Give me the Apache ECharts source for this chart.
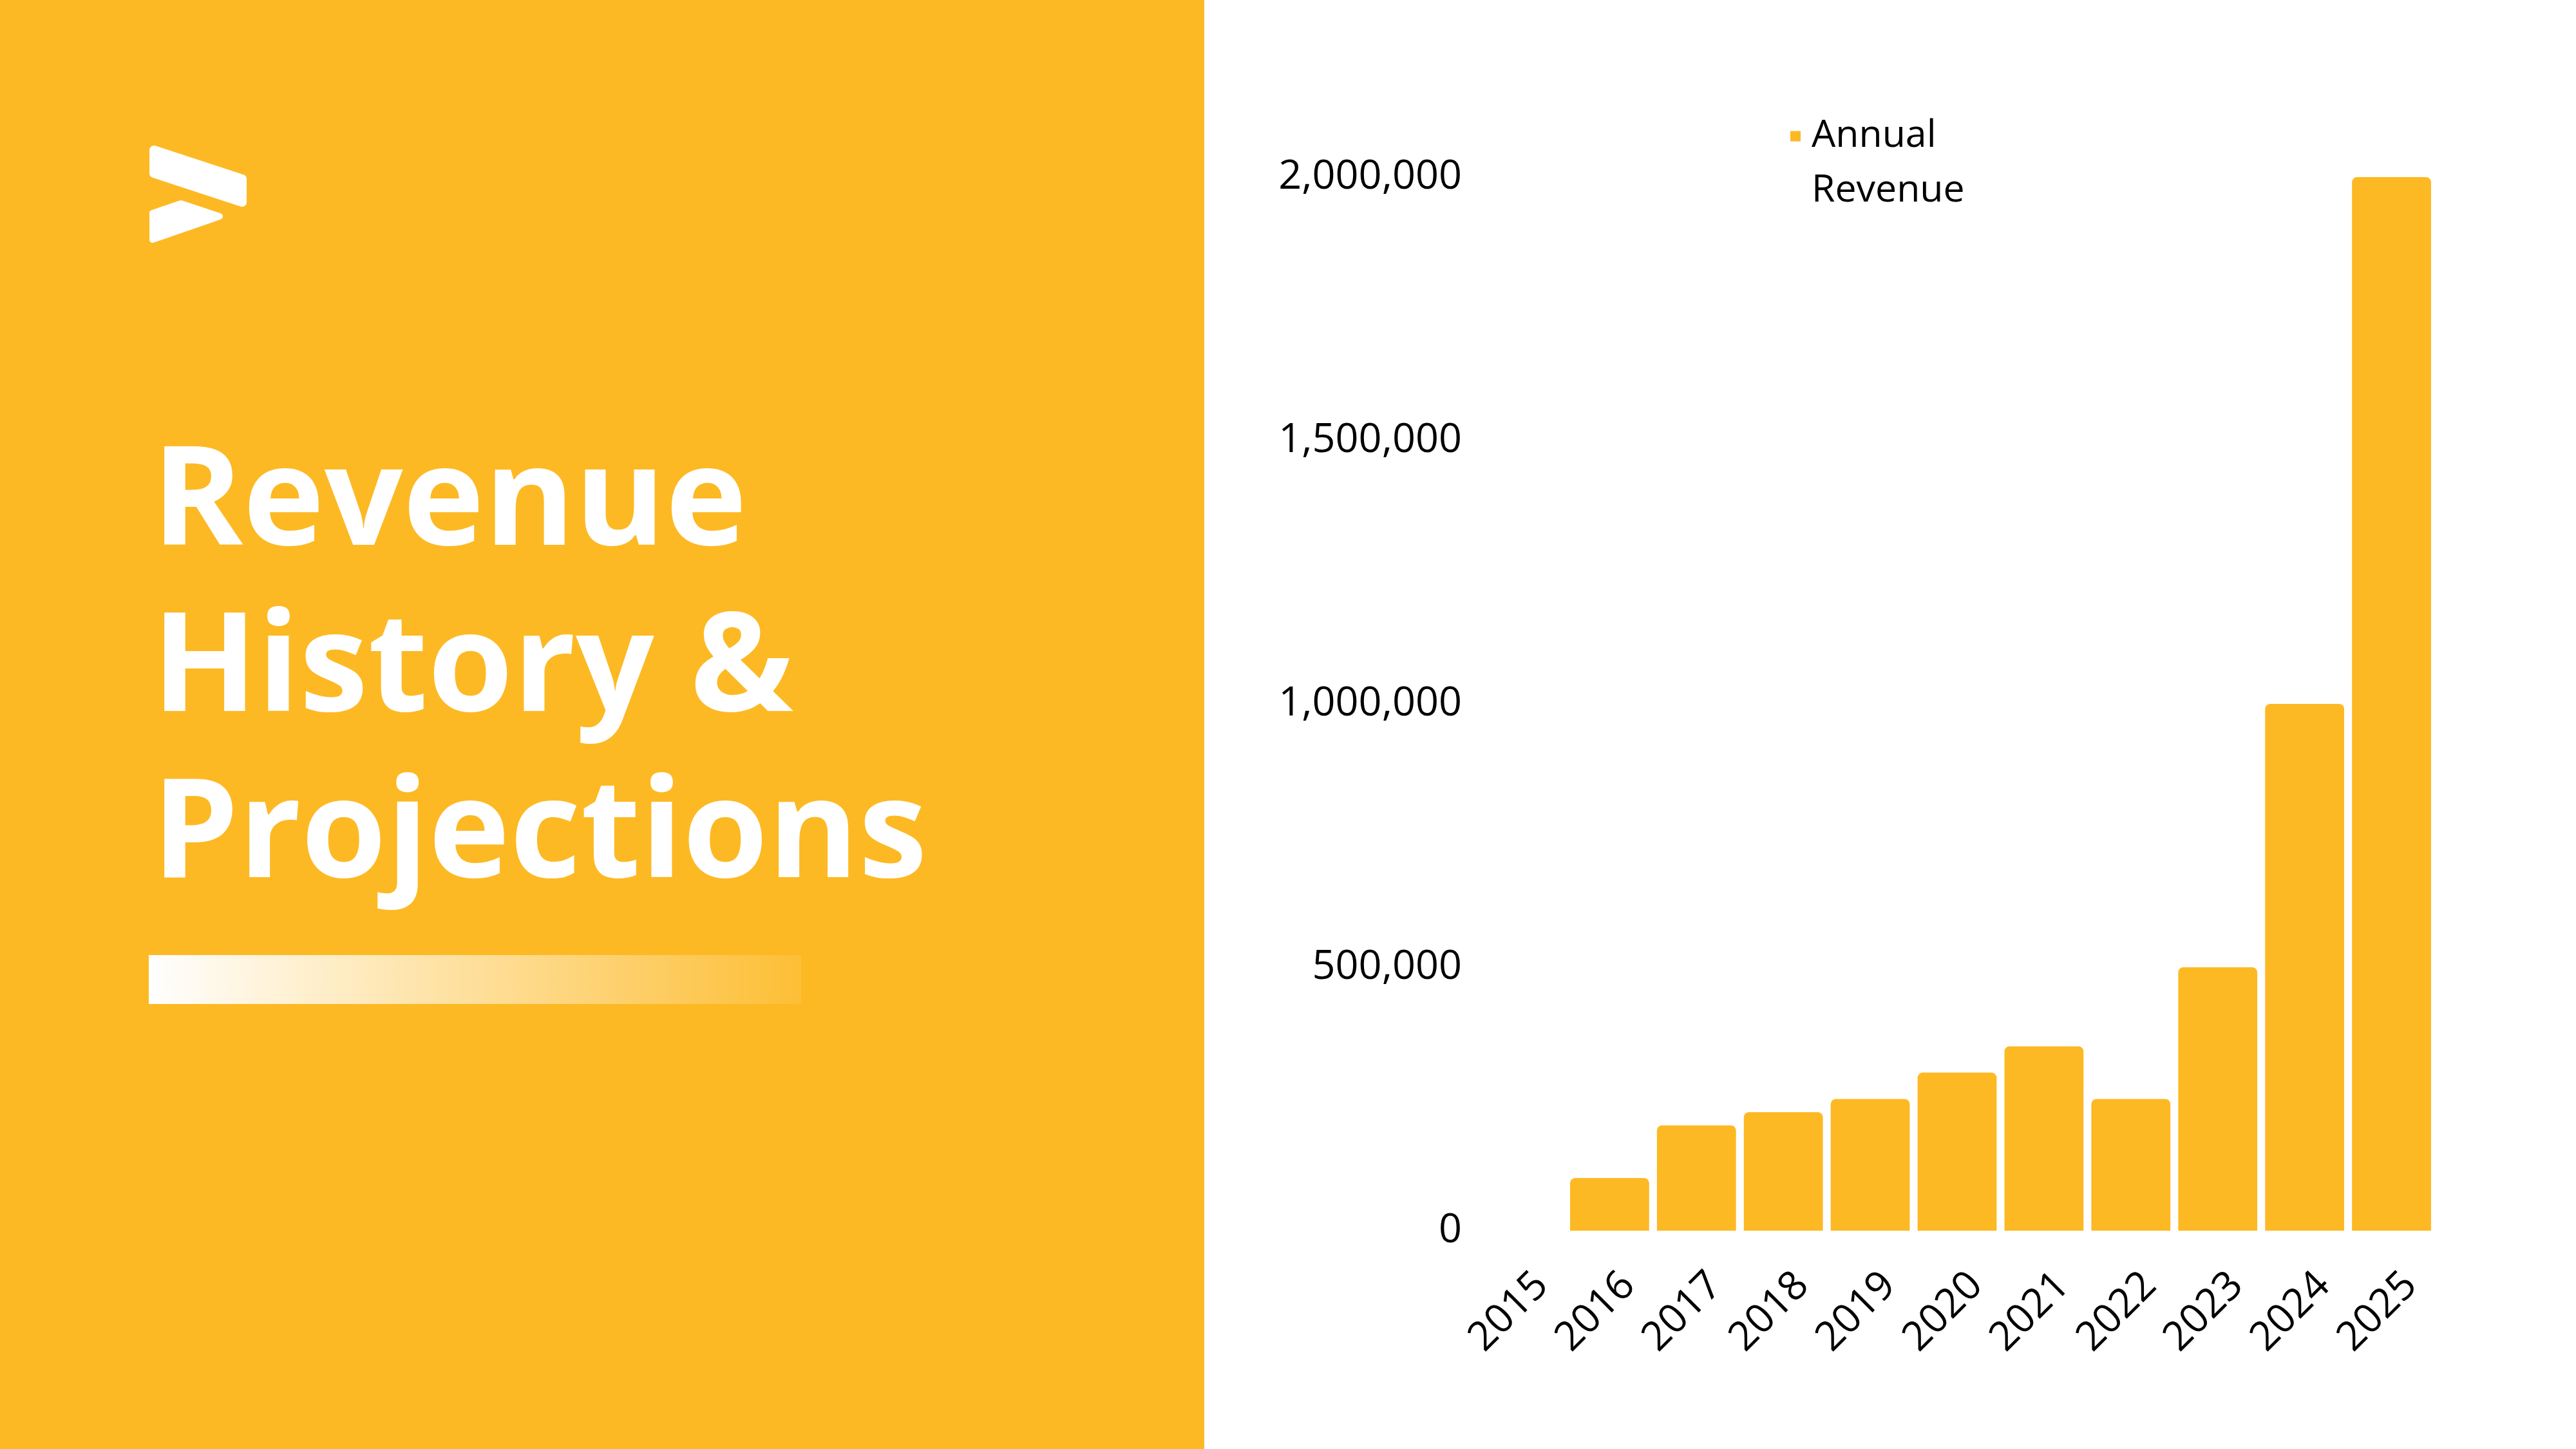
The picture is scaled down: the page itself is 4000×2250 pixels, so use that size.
<!DOCTYPE html>
<html>
<head>
<meta charset="utf-8">
<title>Revenue History & Projections</title>
<script src="https://cdn.jsdelivr.net/npm/echarts@6/dist/echarts.min.js"></script>
<style>
	html, body { margin: 0; padding: 0; background: #fff; }
	#main { width: 4000px; height: 2250px; }
</style>
</head>
<body>
<div id="main"></div>
<script>
// data
var years = ['2015', '2016', '2017', '2018', '2019', '2020', '2021', '2022', '2023', '2024', '2025'];
var revenue = [0, 100000, 200000, 225000, 250000, 300000, 350000, 250000, 500000, 1000000, 2000000];
var seriesName = 'Annual Revenue';
var titleLines = ['Revenue', 'History &', 'Projections'];

var yellow = '#FDB924';

window.onload = function () {
	var myChart = echarts.init(document.getElementById('main'));
	myChart.setOption({
		backgroundColor: '#fff',
		animation: false,
		textStyle: { fontFamily: 'Open Sans' },
		graphic: [
			// left panel
			{ type: 'rect', left: 0, top: 0, z: -10, shape: { width: 1870, height: 2250 }, style: { fill: yellow } },
			// logo
			{
				type: 'polygon', z: -5,
				shape: { points: [[239, 233], [376, 278], [376, 314], [239, 269]] },
				style: { fill: '#fff', stroke: '#fff', lineWidth: 14, lineJoin: 'round' }
			},
			{
				type: 'polygon', z: -5,
				shape: { points: [[237, 331], [281, 316], [341, 336], [237, 372]] },
				style: { fill: '#fff', stroke: '#fff', lineWidth: 10, lineJoin: 'round' }
			},
			// big title
			{
				type: 'text', left: 236, top: 656, z: -5,
				style: {
					text: titleLines.join('\n'),
					font: 'bold 214px "Open Sans"',
					fill: '#fff',
					lineHeight: 258
				}
			},
			// gradient strip
			{
				type: 'rect', left: 231, top: 1483, z: -5,
				shape: { width: 1013, height: 76 },
				style: {
					fill: new echarts.graphic.LinearGradient(0, 0, 1, 0, [
						{ offset: 0, color: 'rgba(255,255,255,1)' },
						{ offset: 1, color: 'rgba(255,255,255,0.08)' }
					])
				}
			}
		],
		legend: {
			left: 2780,
			top: 84,
			padding: 0,
			icon: 'rect',
			itemWidth: 16,
			itemHeight: 16,
			data: [seriesName],
			// empty first line so that "Annual" sits level with the marker
			formatter: function (name) {
				return '\n' + name.replace(' ', '\n');
			},
			textStyle: {
				fontSize: 59,
				lineHeight: 85,
				color: '#000',
				padding: [0, 0, 0, 12]
			}
		},
		grid: {
			left: 2297,
			right: 219,
			top: 275,
			bottom: 339,
			containLabel: false
		},
		xAxis: {
			type: 'category',
			data: years,
			axisLine: { show: false },
			axisTick: { show: false },
			splitLine: { show: false },
			axisLabel: {
				rotate: 45,
				fontSize: 63,
				color: '#000',
				margin: 105,
				padding: [0, -42, 0, 0],
				interval: 0
			}
		},
		yAxis: {
			type: 'value',
			min: 0,
			max: 2000000,
			interval: 500000,
			axisLine: { show: false },
			axisTick: { show: false },
			splitLine: { show: false },
			axisLabel: {
				fontSize: 63,
				color: '#000',
				margin: 27,
				formatter: function (v) {
					return v.toLocaleString('en-US');
				}
			}
		},
		series: [{
			name: seriesName,
			type: 'bar',
			data: revenue,
			barCategoryGap: '9%',
			itemStyle: {
				color: yellow,
				borderRadius: [8, 8, 0, 0]
			}
		}]
	});
};
</script>
</body>
</html>
